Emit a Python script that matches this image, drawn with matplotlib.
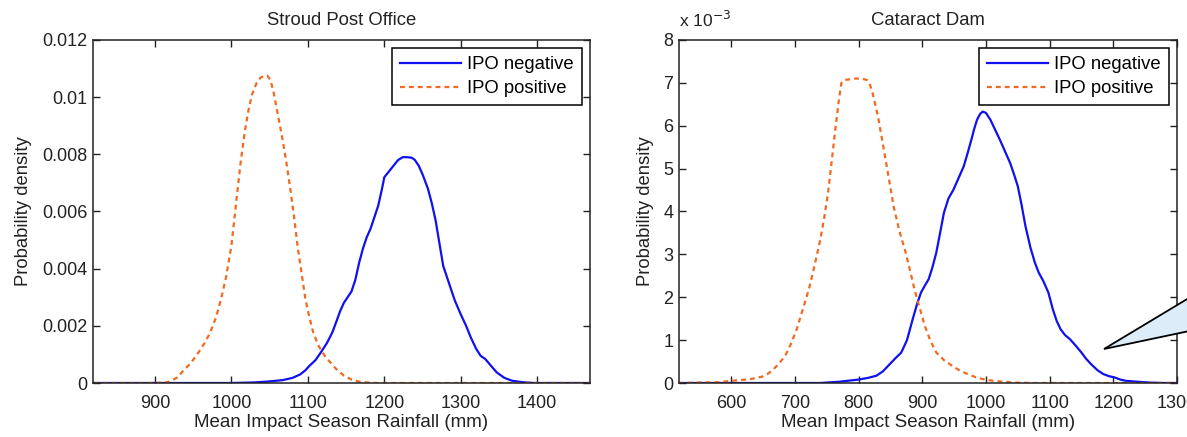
import matplotlib
matplotlib.use('Agg')
import matplotlib.pyplot as plt
from matplotlib.patches import Polygon

# --- Stroud Post Office densities ---
stroud_pos_x = [820, 900, 917, 930, 937, 947, 957, 965, 972, 980, 987, 993, 1000, 1007, 1012,
                1017, 1022, 1027, 1033, 1038, 1043, 1047, 1051, 1055, 1060, 1067, 1072, 1077,
                1082, 1087, 1092, 1097, 1102, 1107, 1114, 1122, 1130, 1137, 1147, 1157, 1167,
                1177, 1190, 1470]
stroud_pos_y = [0, 0, 0.00003, 0.0002, 0.00043, 0.0007, 0.00107, 0.0014, 0.00175, 0.0023,
                0.0030, 0.0037, 0.0048, 0.0065, 0.0077, 0.0087, 0.0095, 0.0101, 0.0105,
                0.01068, 0.01075, 0.01075, 0.0106, 0.0102, 0.0095, 0.0085, 0.0077, 0.0068,
                0.0058, 0.0047, 0.0038, 0.0029, 0.0023, 0.00177, 0.0013, 0.00095, 0.0007,
                0.00049, 0.00026, 0.00012, 0.00005, 0.00002, 0, 0]

stroud_neg_x = [820, 1000, 1030, 1047, 1067, 1080, 1090, 1097, 1102, 1110, 1117, 1125, 1132,
                1138, 1142, 1147, 1152, 1157, 1162, 1167, 1172, 1177, 1182, 1187, 1192, 1197,
                1200, 1206, 1212, 1218, 1224, 1230, 1236, 1240, 1245, 1250, 1257, 1262, 1267,
                1272, 1277, 1282, 1287, 1292, 1300, 1307, 1313, 1320, 1326, 1332, 1338, 1347,
                1357, 1367, 1380, 1395, 1470]
stroud_neg_y = [0, 0, 0.00002, 0.00005, 0.0001, 0.00018, 0.0003, 0.00045, 0.0006, 0.0008,
                0.00107, 0.0014, 0.00177, 0.0022, 0.0025, 0.0028, 0.0030, 0.0032, 0.0036,
                0.0042, 0.0047, 0.0051, 0.0054, 0.0058, 0.0062, 0.0068, 0.0072, 0.0074,
                0.0076, 0.0078, 0.0079, 0.0079, 0.00788, 0.0078, 0.0076, 0.0073, 0.0068,
                0.0063, 0.0057, 0.0049, 0.0041, 0.0037, 0.0033, 0.0029, 0.0024, 0.0020,
                0.0016, 0.0012, 0.00095, 0.00084, 0.00065, 0.00037, 0.00018, 0.00008,
                0.00003, 0, 0]

# --- Cataract Dam densities (x 10^-3) ---
cataract_pos_x = [518, 580, 600, 630, 649, 658, 667, 676, 685, 694, 703, 712, 722, 731, 740,
                  746, 752, 758, 764, 769, 773, 778, 785, 793, 800, 807, 813, 818, 822, 830,
                  837, 846, 855, 864, 874, 882, 889, 897, 904, 913, 922, 935, 947, 959, 971,
                  983, 995, 1007, 1019, 1044, 1070, 1300]
cataract_pos_y = [0, 0.02, 0.05, 0.09, 0.15, 0.22, 0.33, 0.47, 0.64, 0.92, 1.26, 1.7, 2.19,
                  2.75, 3.35, 3.85, 4.43, 5.2, 5.98, 6.6, 7.0, 7.07, 7.08, 7.1, 7.1, 7.09,
                  7.07, 6.95, 6.76, 6.25, 5.67, 4.9, 4.12, 3.55, 3.04, 2.55, 2.11, 1.7, 1.33,
                  0.98, 0.71, 0.52, 0.4, 0.29, 0.21, 0.14, 0.09, 0.06, 0.04, 0.01, 0, 0]

cataract_neg_x = [518, 740, 770, 800, 815, 828, 838, 849, 858, 867, 876, 885, 892, 898, 904,
                  910, 916, 922, 928, 934, 941, 949, 957, 965, 971, 977, 982, 986, 991, 995,
                  1000, 1007, 1014, 1022, 1030, 1038, 1044, 1050, 1056, 1062, 1070, 1077,
                  1083, 1090, 1098, 1105, 1111, 1117, 1124, 1132, 1141, 1150, 1157, 1165,
                  1175, 1184, 1193, 1202, 1211, 1220, 1238, 1257, 1280, 1300]
cataract_neg_y = [0, 0, 0.03, 0.08, 0.12, 0.17, 0.27, 0.44, 0.58, 0.71, 1.0, 1.49, 1.85,
                  2.11, 2.27, 2.42, 2.7, 3.04, 3.5, 3.97, 4.3, 4.51, 4.78, 5.05, 5.35, 5.67,
                  5.95, 6.14, 6.28, 6.33, 6.3, 6.14, 5.92, 5.67, 5.4, 5.13, 4.87, 4.59, 4.15,
                  3.66, 3.15, 2.8, 2.57, 2.38, 2.11, 1.72, 1.45, 1.26, 1.12, 1.02, 0.87, 0.71,
                  0.57, 0.44, 0.3, 0.21, 0.16, 0.13, 0.08, 0.05, 0.03, 0.01, 0, 0]

stroud_xticks = [900, 1000, 1100, 1200, 1300, 1400]
stroud_yticks = [0, 0.002, 0.004, 0.006, 0.008, 0.01, 0.012]
stroud_ylabels = ['0', '0.002', '0.004', '0.006', '0.008', '0.01', '0.012']
cataract_xticks = [600, 700, 800, 900, 1000, 1100, 1200, 1300]
cataract_yticks = [0, 1, 2, 3, 4, 5, 6, 7, 8]

NEG_COLOR = '#1010f0'
POS_COLOR = '#f26a21'
TXT = '#222222'

plt.rcParams['font.family'] = ['Liberation Sans', 'DejaVu Sans']

fig = plt.figure(figsize=(11.87, 4.37), dpi=100)
ax1 = fig.add_axes([93 / 1187, 54 / 437, 497 / 1187, 343 / 437])
ax2 = fig.add_axes([679 / 1187, 54 / 437, 498 / 1187, 343 / 437])


def style_axes(ax, title):
    ax.set_title(title, fontsize=13.3, pad=11, color=TXT)
    ax.set_xlabel('Mean Impact Season Rainfall (mm)', fontsize=13.5, labelpad=1, color=TXT)
    ax.set_ylabel('Probability density', fontsize=13.3, labelpad=7, color=TXT)
    ax.tick_params(direction='in', top=True, right=True, length=5, width=1,
                   labelsize=13, colors=TXT, pad=4)
    ax.tick_params(axis='x', pad=9)
    for s in ax.spines.values():
        s.set_linewidth(1.1)
        s.set_color(TXT)
    leg = ax.legend(loc='upper right', fancybox=False, edgecolor='black', framealpha=1,
                    borderaxespad=0.45, handlelength=3.3, handletextpad=0.35,
                    labelspacing=0.38, borderpad=0.42, fontsize=13.3)
    leg.get_frame().set_linewidth(1.1)


ax1.plot(stroud_neg_x, stroud_neg_y, color=NEG_COLOR, lw=1.6, label='IPO negative')
ax1.plot(stroud_pos_x, stroud_pos_y, color=POS_COLOR, lw=1.6, ls=(0, (2.2, 1.8)),
         label='IPO positive')
ax1.set_xlim(819, 1469)
ax1.set_ylim(0, 0.012)
ax1.set_xticks(stroud_xticks)
ax1.set_yticks(stroud_yticks)
ax1.set_yticklabels(stroud_ylabels)
style_axes(ax1, 'Stroud Post Office')

ax2.plot(cataract_neg_x, cataract_neg_y, color=NEG_COLOR, lw=1.6, label='IPO negative')
ax2.plot(cataract_pos_x, cataract_pos_y, color=POS_COLOR, lw=1.6, ls=(0, (2.2, 1.8)),
         label='IPO positive')
ax2.set_xlim(518, 1300)
ax2.set_ylim(0, 8)
ax2.set_xticks(cataract_xticks)
ax2.set_yticks(cataract_yticks)
style_axes(ax2, 'Cataract Dam')
ax2.text(0.0, 1.03, r'x 10$^{-3}$', transform=ax2.transAxes, fontsize=12.5,
         color=TXT, ha='left', va='bottom')

# callout wedge running off the right edge
wedge = Polygon([(1104 / 1187, 88 / 437), (1.01, 145 / 437), (1.01, 108 / 437)],
                closed=True, transform=fig.transFigure, facecolor='#dcedf9',
                edgecolor='black', lw=1.3, clip_on=False)
fig.patches.append(wedge)

fig.savefig('out.png', dpi=100)
